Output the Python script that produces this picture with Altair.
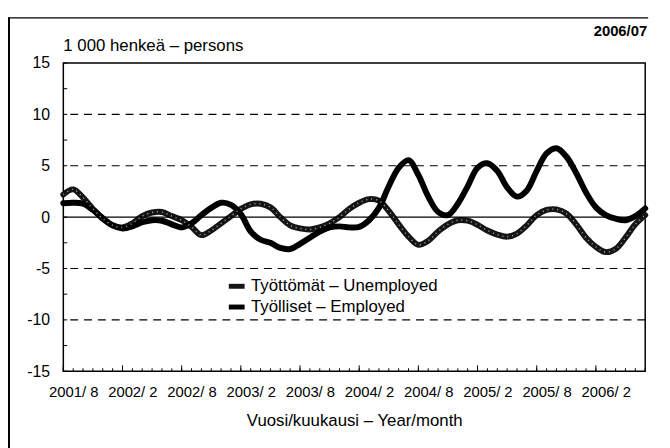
import altair as alt
import pandas as pd

FONT = "Liberation Sans, Arial, sans-serif"

# month index 0 = 2001/7 ... 59 = 2006/6
month_index = list(range(60))

employed = [1.35, 1.4, 1.3, 0.7, -0.1, -0.8, -1.1, -0.9, -0.5, -0.3,
            -0.35, -0.7, -1.0, -0.6, 0.2, 0.9, 1.4, 1.2, 0.3, -1.4,
            -2.2, -2.5, -3.0, -3.1, -2.6, -2.0, -1.4, -1.0, -0.9, -1.0,
            -0.95, -0.3, 0.9, 3.0, 4.8, 5.55, 4.1, 2.0, 0.5, 0.2,
            1.3, 3.0, 4.8, 5.25, 4.5, 2.9, 2.0, 2.6, 4.5, 6.2,
            6.7, 5.9, 4.3, 2.4, 0.95, 0.2, -0.15, -0.3, 0.1, 0.85]

unemployed = [2.2, 2.7, 1.9, 0.8, -0.15, -0.8, -1.0, -0.6, 0.1, 0.45,
              0.5, 0.1, -0.3, -0.95, -1.75, -1.3, -0.6, 0.1, 0.8, 1.25,
              1.3, 0.95, 0.0, -0.8, -1.1, -1.2, -1.0, -0.6, 0.0, 0.8,
              1.4, 1.75, 1.6, 0.6, -0.7, -1.9, -2.7, -2.3, -1.4, -0.7,
              -0.3, -0.35, -0.75, -1.3, -1.7, -1.9, -1.6, -0.8, 0.2, 0.7,
              0.75, 0.35, -0.7, -2.0, -2.9, -3.4, -3.1, -2.0, -0.7, 0.2]

series_names = ["Työttömät – Unemployed", "Työlliset – Employed"]

tick_positions = [1, 7, 13, 19, 25, 31, 37, 43, 49, 55]
tick_labels = ["2001/ 8", "2002/ 2", "2002/ 8", "2003/ 2", "2003/ 8",
               "2004/ 2", "2004/ 8", "2005/ 2", "2005/ 8", "2006/ 2"]
y_label_values = [-15, -10, -5, 0, 5, 10, 15]
grid_values = [-10, -5, 5, 10]
y_minor_ticks = [-15, -12.5, -10, -7.5, -5, -2.5, 0, 2.5, 5, 7.5, 10, 12.5, 15]
x_major_ticks = [0, 6, 12, 18, 24, 30, 36, 42, 48, 54]

unit_text = "1 000 henkeä – persons"
period_text = "2006/07"
x_title = "Vuosi/kuukausi – Year/month"

df = pd.DataFrame({
    "i": month_index * 2,
    "value": unemployed + employed,
    "series": [series_names[0]] * 60 + [series_names[1]] * 60,
})
df_u = pd.DataFrame({"i": month_index, "value": unemployed})

label_array = "[" + ",".join("'" + l + "'" for l in tick_labels) + "]"

xscale = alt.Scale(domain=[0, 59], nice=False, zero=False)
yscale = alt.Scale(domain=[-15, 15], nice=False, zero=False)

x_axis = alt.Axis(
    values=tick_positions, labelExpr=label_array + "[round((datum.value-1)/6)]",
    ticks=False, tickSize=0, domain=False, grid=False, labelPadding=14,
    labelFontSize=15, labelFont=FONT, labelColor="black",
    title=x_title, titleFontSize=17, titleFont=FONT, titleFontWeight="normal",
    titleColor="black", titlePadding=13)
y_axis = alt.Axis(
    values=y_label_values, labelExpr="'' + datum.value",
    ticks=False, tickSize=0, domain=False, grid=False, labelPadding=14,
    labelFontSize=16, labelFont=FONT, labelColor="black", title="")


def X(f):
    return alt.X(f, scale=xscale, axis=x_axis, title=x_title)


def Y(f):
    return alt.Y(f, scale=yscale, axis=y_axis, title="")


lines = alt.Chart(df).mark_line(
    interpolate="catmull-rom", strokeWidth=6, strokeCap="round", strokeJoin="round"
).encode(
    x=X("i:Q"), y=Y("value:Q"),
    color=alt.Color("series:N", scale=alt.Scale(domain=series_names, range=["#151515", "#000000"]),
                    legend=alt.Legend(orient="none", legendX=165, legendY=215.5, title=None,
                                      symbolType="stroke", symbolStrokeWidth=5, symbolSize=256,
                                      labelFontSize=17, labelFont=FONT, labelColor="black",
                                      labelLimit=400, labelOffset=4, rowPadding=0, padding=0)),
    detail="series:N",
)

speckle = alt.Chart(df_u).mark_line(
    interpolate="catmull-rom", strokeWidth=1.5, strokeDash=[1, 4], color="#a8a8a8"
).encode(x=X("i:Q"), y=Y("value:Q"))

grid = alt.Chart(pd.DataFrame({"value": grid_values})).mark_rule(
    color="black", strokeWidth=1.2, strokeDash=[8, 6]
).encode(y=Y("value:Q"))

zero = alt.Chart(pd.DataFrame({"value": [0]})).mark_rule(color="black", strokeWidth=1.2).encode(
    y=Y("value:Q"))

yt = alt.Chart(pd.DataFrame({"value": y_minor_ticks})).mark_rule(color="black", strokeWidth=1).encode(
    y=Y("value:Q"), x=alt.value(0), x2=alt.value(4))

xt_minor = alt.Chart(pd.DataFrame({"i": month_index})).mark_rule(color="black", strokeWidth=1).encode(
    x=X("i:Q"), y=alt.value(312), y2=alt.value(309))
xt_major = alt.Chart(pd.DataFrame({"i": x_major_ticks})).mark_rule(color="black", strokeWidth=1).encode(
    x=X("i:Q"), y=alt.value(312), y2=alt.value(306))

one = pd.DataFrame({"t": [unit_text]})
unit = alt.Chart(one).mark_text(align="left", baseline="middle", fontSize=17, font=FONT, color="black").encode(
    x=alt.value(0), y=alt.value(-17.5), text="t:N")
period = alt.Chart(pd.DataFrame({"t": [period_text]})).mark_text(
    align="right", baseline="middle", fontSize=15, font=FONT, fontWeight="bold", color="black").encode(
    x=alt.value(591), y=alt.value(-32.5), text="t:N")

frame_left = alt.Chart(one).mark_rule(color="black", strokeWidth=2).encode(
    x=alt.value(-55), y=alt.value(-46), y2=alt.value(400))
frame_top = alt.Chart(one).mark_rule(color="black", strokeWidth=1.5).encode(
    x=alt.value(-56), x2=alt.value(592), y=alt.value(-45.7))

chart = alt.layer(
    lines, grid, zero, yt, xt_minor, xt_major, speckle, unit, period, frame_left, frame_top
).properties(
    width=589, height=312,
    autosize=alt.AutoSizeParams(type="none"),
    padding={"left": 56, "top": 53, "right": 17, "bottom": 75},
).configure_view(stroke="black", strokeWidth=1.5)

chart.save("out.html", embed_options={"renderer": "svg", "actions": False})
